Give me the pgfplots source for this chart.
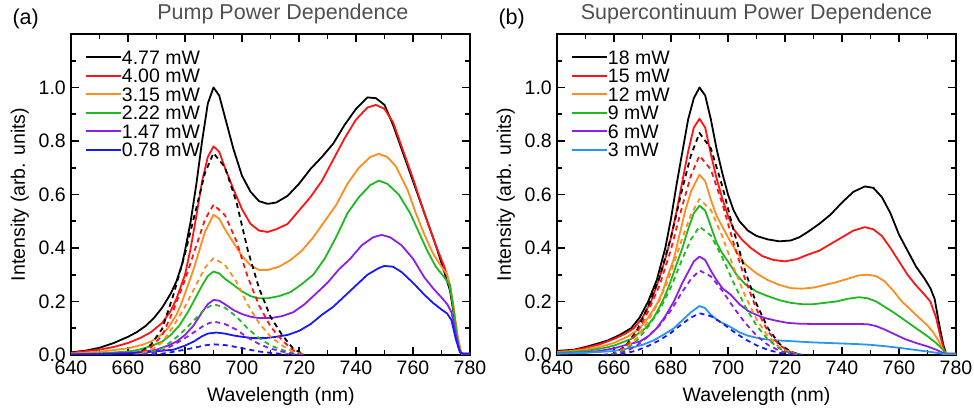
\documentclass[border=0pt]{standalone}
\usepackage{fontspec}
\setmainfont{Liberation Sans}
\usepackage{pgfplots}
\pgfplotsset{compat=1.18}
\definecolor{cRed}{RGB}{255,20,20}
\definecolor{cOrange}{RGB}{255,140,30}
\definecolor{cGreen}{RGB}{30,185,30}
\definecolor{cPurple}{RGB}{140,30,235}
\definecolor{cBlue}{RGB}{25,25,255}
\definecolor{cLBlue}{RGB}{40,150,245}
\definecolor{titlegray}{RGB}{80,80,80}
\pgfplotsset{
  spec/.style={
    scale only axis, width=399bp, height=321bp,
    xmin=640, xmax=780, ymin=0, ymax=1.2,
    xtick={640,660,...,780}, minor xtick={650,670,...,770},
    ytick={0,0.2,0.4,0.6,0.8,1.0}, minor ytick={0.1,0.3,0.5,0.7,0.9,1.1},
    tick align=inside, xtick pos=both, ytick pos=both,
    major tick length=8bp, minor tick length=5bp,
    every tick/.style={line width=1.6bp, black},
    axis line style={line width=1.7bp},
    /pgf/number format/assume math mode=true,
    yticklabel style={/pgf/number format/fixed, /pgf/number format/fixed zerofill, /pgf/number format/precision=1},
    tick label style={font=\fontsize{19.5bp}{21bp}\selectfont},
    xticklabel style={anchor=base, yshift=-19bp},
    yticklabel style={inner sep=5bp},
    label style={font=\fontsize{19.5bp}{21bp}\selectfont},
    ylabel={Intensity (arb. units)},
    ylabel style={at={(axis description cs:-0.128,0.5)}, anchor=center},
    xlabel={Wavelength (nm)},
    title style={font=\fontsize{21.5bp}{23bp}\selectfont, text=titlegray, anchor=base, yshift=9bp},
    legend cell align=left,
    legend style={draw=none, fill=none, at={(axis description cs:0.035,0.95)}, anchor=north west,
      inner sep=0pt, row sep=4.5bp,
      nodes={inner sep=0pt, text height=14bp, text depth=0bp, font=\fontsize{19.5bp}{21bp}\selectfont}},
    legend image code/.code={\draw[#1, line width=1.8bp] (0bp,0bp) -- (35bp,0bp);},
    every axis plot/.append style={line width=1.8bp, line join=round},
    dsh/.style={dash pattern=on 5bp off 4bp, forget plot},
  }
}
\begin{document}
\begin{tikzpicture}
\useasboundingbox (0,0) rectangle (974bp,410bp);
\node[anchor=base west, font=\fontsize{21.5bp}{23bp}\selectfont] at (9bp,385bp) {(a)};
\node[anchor=base west, font=\fontsize{21.5bp}{23bp}\selectfont] at (495bp,385bp) {(b)};
\begin{axis}[spec, at={(71bp,55bp)}, anchor=south west,
  title={Pump Power Dependence}, title style={at={(axis description cs:0.531,1)}},
  xlabel style={at={(axis description cs:0.526,0)}, anchor=base, yshift=-46bp}]
\addplot[black] coordinates {(640,0.010)(645,0.016)(650,0.027)(655,0.045)(660,0.068)(663,0.085)(666,0.107)(669,0.137)(672,0.177)(675,0.23)(677,0.275)(679,0.34)(680,0.39)(682,0.50)(684,0.64)(686,0.80)(688,0.94)(690,1.00)(692,0.97)(694,0.89)(697,0.77)(700,0.67)(703,0.61)(706,0.575)(709,0.565)(712,0.57)(716,0.595)(720,0.64)(724,0.695)(728,0.74)(732,0.79)(736,0.86)(740,0.92)(744,0.963)(747,0.96)(750,0.935)(753,0.86)(756,0.77)(760,0.65)(764,0.53)(768,0.41)(771,0.31)(773,0.24)(774.5,0.14)(776,0.03)(777,0.005)(780,0.005)};
\addlegendentry{4.77 mW}
\addplot[cRed] coordinates {(640,0.008)(650,0.02)(655,0.03)(660,0.045)(664,0.062)(668,0.085)(672,0.12)(675,0.165)(677,0.21)(680,0.30)(682,0.40)(684,0.52)(686,0.65)(688,0.74)(690,0.78)(692,0.76)(694,0.70)(697,0.62)(700,0.545)(703,0.49)(706,0.465)(709,0.46)(712,0.47)(716,0.49)(720,0.54)(724,0.59)(728,0.65)(732,0.73)(736,0.81)(740,0.88)(744,0.925)(747,0.935)(750,0.92)(753,0.87)(756,0.78)(760,0.66)(764,0.53)(768,0.41)(771,0.33)(773,0.26)(774.5,0.15)(776,0.03)(777,0.005)(780,0.005)};
\addlegendentry{4.00 mW}
\addplot[cOrange] coordinates {(640,0.005)(650,0.012)(660,0.025)(665,0.038)(668,0.05)(671,0.07)(674,0.10)(677,0.15)(679,0.20)(681,0.26)(683,0.32)(685,0.39)(687,0.46)(690,0.524)(692,0.51)(694,0.47)(697,0.42)(700,0.37)(703,0.335)(706,0.318)(709,0.318)(713,0.33)(717,0.355)(721,0.39)(725,0.44)(729,0.50)(733,0.56)(737,0.64)(741,0.70)(745,0.74)(748,0.752)(751,0.74)(754,0.705)(758,0.62)(761,0.53)(764,0.45)(767,0.38)(770,0.33)(772,0.30)(774,0.2)(775.5,0.08)(777,0.005)(780,0.005)};
\addlegendentry{3.15 mW}
\addplot[cGreen] coordinates {(640,0.003)(650,0.006)(660,0.013)(664,0.02)(668,0.033)(672,0.05)(675,0.075)(678,0.11)(681,0.16)(683,0.20)(686,0.26)(688,0.295)(690,0.312)(692,0.305)(694,0.285)(697,0.262)(700,0.238)(703,0.22)(706,0.212)(709,0.212)(713,0.22)(717,0.235)(721,0.265)(725,0.30)(729,0.36)(733,0.44)(737,0.53)(741,0.59)(745,0.635)(748,0.652)(751,0.64)(755,0.60)(759,0.53)(762,0.46)(765,0.39)(768,0.33)(771,0.29)(773,0.26)(774.5,0.15)(776,0.03)(777,0.005)(780,0.005)};
\addlegendentry{2.22 mW}
\addplot[cPurple] coordinates {(640,0.002)(650,0.004)(660,0.008)(666,0.013)(670,0.02)(674,0.035)(677,0.05)(680,0.075)(683,0.11)(686,0.16)(688,0.19)(690,0.206)(692,0.203)(694,0.19)(697,0.168)(700,0.153)(703,0.143)(706,0.138)(710,0.138)(714,0.145)(718,0.16)(722,0.19)(726,0.23)(730,0.27)(734,0.32)(738,0.36)(742,0.41)(746,0.44)(749,0.449)(752,0.44)(756,0.41)(760,0.36)(764,0.29)(767,0.25)(770,0.215)(772,0.19)(773.5,0.16)(775,0.08)(776.5,0.01)(777.5,0.005)(780,0.005)};
\addlegendentry{1.47 mW}
\addplot[cBlue] coordinates {(640,0.002)(650,0.003)(660,0.006)(668,0.012)(676,0.02)(680,0.035)(683,0.05)(686,0.07)(688,0.08)(691,0.084)(694,0.08)(697,0.073)(700,0.068)(704,0.063)(708,0.063)(712,0.068)(716,0.075)(720,0.09)(724,0.115)(728,0.15)(732,0.18)(736,0.22)(740,0.26)(744,0.30)(748,0.325)(750,0.333)(753,0.33)(756,0.31)(760,0.27)(764,0.225)(767,0.195)(770,0.17)(772,0.155)(773.5,0.13)(775,0.06)(776.5,0.01)(777.5,0.005)(780,0.005)};
\addlegendentry{0.78 mW}
% dashed fits
\addplot[black, dsh] coordinates {(662,0)(664,0.008)(668,0.038)(672,0.098)(676,0.227)(680,0.378)(684,0.551)(687,0.680)(690,0.755)(694,0.702)(698,0.574)(702,0.393)(706,0.249)(710,0.143)(714,0.076)(718,0.023)(722,0)};
\addplot[cRed, dsh] coordinates {(662,0)(664,0.006)(668,0.028)(672,0.073)(676,0.169)(680,0.281)(684,0.410)(687,0.506)(690,0.562)(694,0.523)(698,0.427)(702,0.292)(706,0.185)(710,0.107)(714,0.056)(718,0.017)(722,0)};
\addplot[cOrange, dsh] coordinates {(662,0)(664,0.004)(668,0.018)(672,0.047)(676,0.109)(680,0.181)(684,0.264)(687,0.326)(690,0.362)(694,0.337)(698,0.275)(702,0.188)(706,0.119)(710,0.069)(714,0.036)(718,0.011)(722,0)};
\addplot[cGreen, dsh] coordinates {(662,0)(664,0.002)(668,0.010)(672,0.025)(676,0.057)(680,0.095)(684,0.139)(687,0.171)(690,0.19)(694,0.177)(698,0.144)(702,0.099)(706,0.063)(710,0.036)(714,0.019)(718,0.006)(722,0)};
\addplot[cPurple, dsh] coordinates {(662,0)(664,0.001)(668,0.006)(672,0.016)(676,0.038)(680,0.063)(684,0.091)(687,0.113)(690,0.125)(694,0.116)(698,0.095)(702,0.065)(706,0.041)(710,0.024)(714,0.013)(718,0.004)(722,0)};
\addplot[cBlue, dsh] coordinates {(662,0)(664,0)(668,0.002)(672,0.005)(676,0.012)(680,0.020)(684,0.029)(687,0.036)(690,0.04)(694,0.037)(698,0.030)(702,0.021)(706,0.013)(710,0.008)(714,0.004)(718,0.001)(722,0)};
\end{axis}
\begin{axis}[spec, at={(557bp,55bp)}, anchor=south west,
  title={Supercontinuum Power Dependence}, title style={at={(axis description cs:0.5,1)}},
  xlabel style={at={(axis description cs:0.5,0)}, anchor=base, yshift=-46bp}]
\addplot[black] coordinates {(640,0.015)(646,0.02)(650,0.03)(655,0.045)(658,0.055)(662,0.075)(666,0.10)(669,0.14)(672,0.20)(675,0.28)(678,0.40)(680,0.51)(682,0.64)(684,0.76)(686,0.88)(688,0.96)(690,1.0)(692,0.97)(694,0.88)(696,0.77)(698,0.68)(700,0.60)(702,0.54)(704,0.50)(707,0.465)(710,0.445)(714,0.432)(718,0.425)(722,0.428)(725,0.44)(728,0.46)(732,0.49)(736,0.525)(740,0.57)(744,0.61)(748,0.63)(751,0.625)(754,0.59)(757,0.53)(760,0.45)(763,0.39)(766,0.33)(769,0.285)(771,0.25)(772.5,0.21)(774,0.12)(775.5,0.04)(776.5,0.005)(780,0.005)};
\addlegendentry{18 mW}
\addplot[cRed] coordinates {(640,0.012)(646,0.018)(650,0.027)(655,0.04)(660,0.06)(664,0.08)(667,0.10)(670,0.14)(673,0.20)(676,0.29)(678,0.36)(680,0.44)(682,0.54)(684,0.65)(686,0.76)(688,0.85)(690,0.883)(692,0.85)(694,0.75)(696,0.66)(698,0.585)(700,0.52)(702,0.47)(705,0.43)(708,0.40)(712,0.37)(716,0.355)(720,0.35)(724,0.358)(728,0.375)(732,0.39)(736,0.415)(740,0.44)(744,0.465)(748,0.478)(751,0.47)(754,0.445)(757,0.40)(760,0.35)(763,0.30)(766,0.26)(769,0.225)(771,0.20)(773,0.14)(774.5,0.07)(776,0.01)(777,0.005)(780,0.005)};
\addlegendentry{15 mW}
\addplot[cOrange] coordinates {(640,0.01)(650,0.02)(655,0.03)(660,0.045)(665,0.07)(669,0.10)(672,0.14)(675,0.19)(677,0.235)(679,0.30)(681,0.36)(683,0.45)(685,0.54)(687,0.61)(690,0.674)(692,0.65)(694,0.58)(696,0.52)(698,0.48)(700,0.44)(703,0.385)(706,0.34)(710,0.305)(714,0.28)(718,0.262)(722,0.25)(726,0.248)(730,0.252)(734,0.262)(738,0.272)(742,0.285)(746,0.298)(749,0.30)(752,0.295)(755,0.275)(758,0.24)(761,0.20)(764,0.17)(767,0.14)(770,0.11)(772,0.085)(774,0.05)(776,0.01)(777,0.005)(780,0.005)};
\addlegendentry{12 mW}
\addplot[cGreen] coordinates {(640,0.008)(650,0.015)(656,0.025)(660,0.035)(666,0.06)(671,0.10)(674,0.14)(677,0.20)(679,0.25)(681,0.31)(684,0.40)(686,0.47)(688,0.53)(690,0.558)(692,0.54)(694,0.48)(696,0.42)(698,0.38)(700,0.35)(703,0.30)(706,0.265)(710,0.237)(714,0.22)(718,0.205)(722,0.195)(726,0.19)(730,0.19)(734,0.195)(738,0.20)(742,0.21)(746,0.216)(749,0.212)(752,0.20)(755,0.18)(758,0.16)(762,0.13)(766,0.10)(770,0.07)(773,0.045)(775,0.025)(776.5,0.005)(780,0.005)};
\addlegendentry{9 mW}
\addplot[cPurple] coordinates {(640,0.005)(650,0.01)(655,0.015)(660,0.025)(665,0.04)(669,0.05)(672,0.07)(675,0.10)(678,0.145)(681,0.20)(684,0.27)(686,0.31)(688,0.35)(690,0.368)(692,0.355)(694,0.315)(696,0.28)(698,0.25)(701,0.225)(704,0.19)(707,0.165)(710,0.15)(713,0.138)(717,0.128)(721,0.12)(725,0.117)(730,0.116)(735,0.116)(740,0.116)(745,0.116)(749,0.115)(752,0.108)(755,0.095)(758,0.08)(762,0.06)(766,0.045)(770,0.032)(773,0.02)(775,0.01)(776.5,0.003)(780,0.003)};
\addlegendentry{6 mW}
\addplot[cLBlue] coordinates {(640,0.005)(650,0.008)(660,0.015)(666,0.027)(670,0.038)(674,0.055)(678,0.08)(681,0.10)(684,0.13)(687,0.16)(690,0.183)(692,0.175)(694,0.15)(697,0.125)(700,0.11)(704,0.085)(707,0.072)(711,0.062)(715,0.056)(720,0.053)(725,0.05)(730,0.047)(735,0.045)(740,0.043)(745,0.041)(750,0.038)(755,0.033)(760,0.027)(765,0.02)(770,0.013)(774,0.007)(776.5,0.002)(780,0.002)};
\addlegendentry{3 mW}
% dashed fits
\addplot[black, dsh] coordinates {(656,0)(660,0.004)(664,0.033)(668,0.091)(672,0.183)(676,0.291)(680,0.440)(684,0.623)(687,0.747)(690,0.83)(694,0.772)(698,0.631)(702,0.465)(706,0.315)(710,0.191)(714,0.100)(718,0.042)(722,0.012)(726,0)};
\addplot[cRed, dsh] coordinates {(656,0)(660,0.004)(664,0.030)(668,0.082)(672,0.164)(676,0.261)(680,0.395)(684,0.559)(687,0.671)(690,0.745)(694,0.693)(698,0.566)(702,0.417)(706,0.283)(710,0.171)(714,0.089)(718,0.037)(722,0.011)(726,0)};
\addplot[cOrange, dsh] coordinates {(656,0)(660,0.003)(664,0.023)(668,0.064)(672,0.128)(676,0.204)(680,0.309)(684,0.437)(687,0.525)(690,0.583)(694,0.542)(698,0.443)(702,0.326)(706,0.222)(710,0.134)(714,0.070)(718,0.029)(722,0.009)(726,0)};
\addplot[cGreen, dsh] coordinates {(656,0)(660,0.002)(664,0.019)(668,0.053)(672,0.106)(676,0.168)(680,0.254)(684,0.36)(687,0.432)(690,0.48)(694,0.446)(698,0.365)(702,0.269)(706,0.182)(710,0.110)(714,0.058)(718,0.024)(722,0.007)(726,0)};
\addplot[cPurple, dsh] coordinates {(656,0)(660,0.002)(664,0.013)(668,0.035)(672,0.070)(676,0.111)(680,0.167)(684,0.237)(687,0.284)(690,0.316)(694,0.294)(698,0.240)(702,0.177)(706,0.120)(710,0.073)(714,0.038)(718,0.016)(722,0.005)(726,0)};
\addplot[cBlue, dsh] coordinates {(656,0)(660,0.001)(664,0.006)(668,0.017)(672,0.034)(676,0.055)(680,0.083)(684,0.117)(687,0.140)(690,0.156)(694,0.145)(698,0.119)(702,0.087)(706,0.059)(710,0.036)(714,0.019)(718,0.008)(722,0.002)(726,0)};
\end{axis}
\end{tikzpicture}
\end{document}
